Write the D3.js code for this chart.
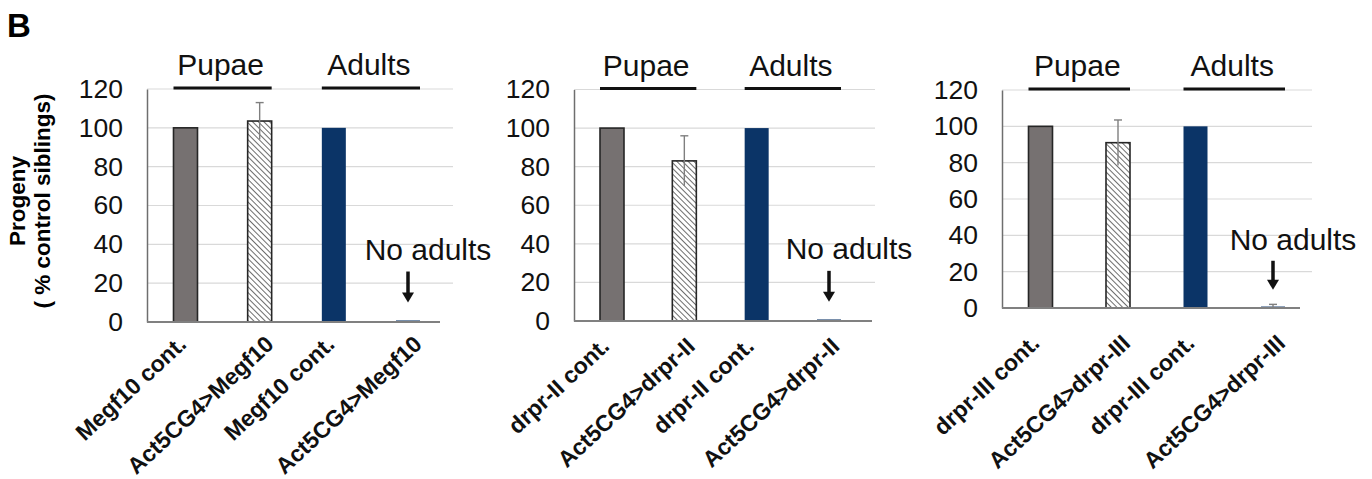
<!DOCTYPE html>
<html>
<head>
<meta charset="utf-8">
<script src="https://cdn.jsdelivr.net/npm/d3@7"></script>
<style>
  html, body { margin: 0; padding: 0; background: #fff; }
  svg { display: block; font-family: "Liberation Sans", Arial, sans-serif; }
</style>
</head>
<body>
<div id="fig"></div>
<script>
// values (% of control siblings)
const megf10Labels = ["Megf10 cont.", "Act5CG4>Megf10", "Megf10 cont.", "Act5CG4>Megf10"];
const megf10Values = [100, 103.5, 100, 0.8];
const megf10Errors = [0, 9.5, 0, 0];

const drprIILabels = ["drpr-II cont.", "Act5CG4>drpr-II", "drpr-II cont.", "Act5CG4>drpr-II"];
const drprIIValues = [100, 83, 100, 0.8];
const drprIIErrors = [0, 13, 0, 0];

const drprIIILabels = ["drpr-III cont.", "Act5CG4>drpr-III", "drpr-III cont.", "Act5CG4>drpr-III"];
const drprIIIValues = [100, 91, 100, 0.8];
const drprIIIErrors = [0, 12.5, 0, 1.2];

const yTicks = [0, 20, 40, 60, 80, 100, 120];
const stages = ["Pupae", "Adults"];
const stageBars = [[0, 1], [2, 3]];
const noAdultsText = "No adults";

// layout of the three panels (pixels)
const layouts = [
  {left: 147, right: 440, gridEnd: 453, top: 89, bottom: 322, c0: 185.5, c1: 408, labelDy: 24},
  {left: 574, right: 872, gridEnd: 875, top: 89.5, bottom: 321, c0: 612, c1: 829, labelDy: 27},
  {left: 1002, right: 1300, gridEnd: 1312, top: 90, bottom: 308, c0: 1040.5, c1: 1273, labelDy: 37}
];
const panelData = [
  {labels: megf10Labels, values: megf10Values, errors: megf10Errors},
  {labels: drprIILabels, values: drprIIValues, errors: drprIIErrors},
  {labels: drprIIILabels, values: drprIIIValues, errors: drprIIIErrors}
];

const W = 1372, H = 479, barW = 24;
const BLUE = "#0b3467", GREY = "#767171";

const svg = d3.select("#fig").append("svg")
  .attr("width", W)
  .attr("height", H);

const defs = svg.append("defs");
const pat = defs.append("pattern")
  .attr("id", "hatch")
  .attr("patternUnits", "userSpaceOnUse")
  .attr("width", 4)
  .attr("height", 4)
  .attr("patternTransform", "rotate(-45)");
pat.append("rect").attr("width", 4).attr("height", 4).attr("fill", "#fff");
pat.append("line")
  .attr("x1", 0).attr("y1", 0).attr("x2", 0).attr("y2", 4)
  .attr("stroke", "#5e5e5e").attr("stroke-width", 1.8);

const fills = [GREY, "url(#hatch)", BLUE, BLUE];
const strokes = ["#262626", "#262626", "none", "none"];

// panel letter
svg.append("text")
  .attr("x", 7).attr("y", 37)
  .attr("font-size", 33).attr("font-weight", "bold")
  .text("B");

// y axis title
const yt = svg.append("text")
  .attr("transform", "translate(25,201) rotate(-90)")
  .attr("text-anchor", "middle")
  .attr("font-weight", "bold")
  .attr("font-size", 22.5);
yt.append("tspan").attr("x", 0).attr("y", 0).text("Progeny");
yt.append("tspan").attr("x", 0).attr("y", 25).text("( % control siblings)");

panelData.forEach((pd, p) => {
  const L = layouts[p];
  const g = svg.append("g");

  const y = d3.scaleLinear().domain([0, 120]).range([L.bottom, L.top]);
  const x = d3.scalePoint().domain(d3.range(pd.values.length)).range([L.c0, L.c1]);

  // gridlines
  g.selectAll("line.grid")
    .data(yTicks.filter(t => t > 0))
    .enter().append("line")
    .attr("class", "grid")
    .attr("x1", L.left).attr("x2", L.gridEnd)
    .attr("y1", d => y(d)).attr("y2", d => y(d))
    .attr("stroke", "#d9d9d9").attr("stroke-width", 1.2);

  // y axis
  const ax = g.append("g")
    .attr("transform", `translate(${L.left},0)`)
    .call(d3.axisLeft(y).tickValues(yTicks).tickSize(0).tickPadding(24));
  ax.select(".domain").attr("stroke", "#6e6e6e").attr("stroke-width", 1.5);
  ax.selectAll("text")
    .attr("font-size", 26.5)
    .attr("font-family", "Liberation Sans, Arial, sans-serif")
    .attr("fill", "#111");

  // bars
  g.selectAll("rect.bar")
    .data(pd.values)
    .enter().append("rect")
    .attr("class", "bar")
    .attr("x", (d, i) => x(i) - barW / 2)
    .attr("y", d => y(d))
    .attr("width", barW)
    .attr("height", d => y(0) - y(d))
    .attr("fill", (d, i) => fills[i])
    .attr("stroke", (d, i) => strokes[i])
    .attr("stroke-width", 1.6);

  // baseline
  g.append("line")
    .attr("x1", L.left).attr("x2", L.right)
    .attr("y1", y(0)).attr("y2", y(0))
    .attr("stroke", "#808080").attr("stroke-width", 1.8);

  // error bars
  pd.values.forEach((v, i) => {
    const e = pd.errors[i];
    if (!e) return;
    g.append("line")
      .attr("x1", x(i)).attr("x2", x(i))
      .attr("y1", y(Math.max(0, v - e))).attr("y2", y(v + e))
      .attr("stroke", "#7f7f7f").attr("stroke-width", 1.4);
    g.append("line")
      .attr("x1", x(i) - 4).attr("x2", x(i) + 4)
      .attr("y1", y(v + e)).attr("y2", y(v + e))
      .attr("stroke", "#7f7f7f").attr("stroke-width", 1.4);
  });

  // stage headers
  stages.forEach((s, k) => {
    const [a, b] = stageBars[k];
    g.append("line")
      .attr("x1", x(a) - barW / 2).attr("x2", x(b) + barW / 2)
      .attr("y1", L.top - 1).attr("y2", L.top - 1)
      .attr("stroke", "#111").attr("stroke-width", 3);
    g.append("text")
      .attr("x", (x(a) + x(b)) / 2 - 2).attr("y", L.top - 14)
      .attr("text-anchor", "middle")
      .attr("font-size", 30)
      .attr("fill", "#111")
      .text(s);
  });

  // category labels: longer labels sit a little further right, as in the figure
  g.selectAll("text.cat")
    .data(pd.labels)
    .enter().append("text")
    .attr("class", "cat")
    .attr("text-anchor", "end")
    .attr("font-size", 23)
    .attr("font-weight", "bold")
    .attr("fill", "#111")
    .text(d => d)
    .attr("transform", function(d, i) {
      const len = this.getComputedTextLength();
      const dx = 2 + 0.27 * (len - 140);
      return `translate(${x(i) + dx},${L.bottom + L.labelDy}) rotate(-43)`;
    });

  // "No adults" note and arrow over the last bar
  const last = pd.values.length - 1;
  g.append("text")
    .attr("x", x(last) + 20).attr("y", y(32))
    .attr("text-anchor", "middle")
    .attr("font-size", 30)
    .attr("fill", "#111")
    .text(noAdultsText);
  g.append("line")
    .attr("x1", x(last)).attr("x2", x(last))
    .attr("y1", y(26)).attr("y2", y(10) - 8)
    .attr("stroke", "#111").attr("stroke-width", 3.5);
  g.append("path")
    .attr("d", d3.line()([[x(last) - 6, y(10) - 10], [x(last) + 6, y(10) - 10], [x(last), y(10)]]) + "Z")
    .attr("fill", "#111");
});
</script>
</body>
</html>
